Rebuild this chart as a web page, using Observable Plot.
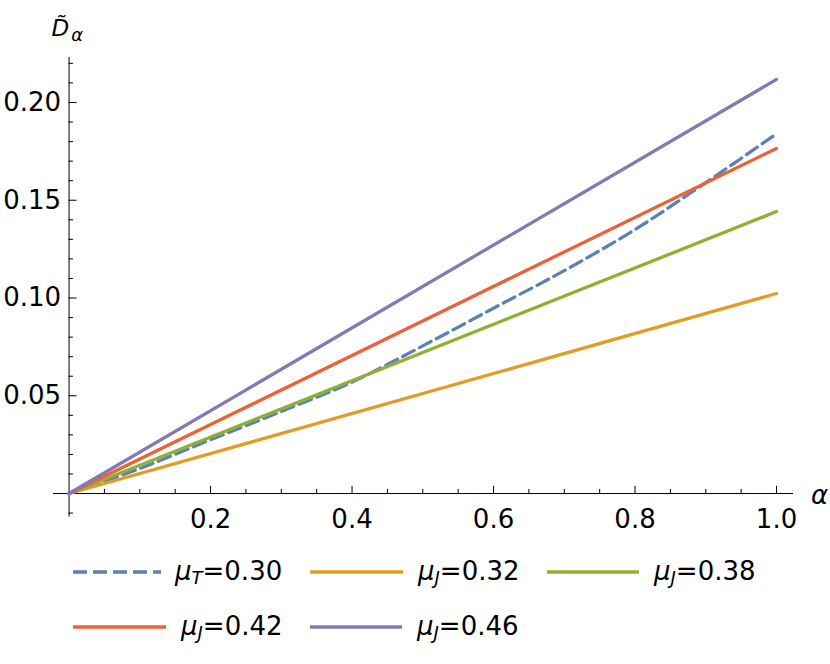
<!DOCTYPE html>
<html>
<head>
<meta charset="utf-8">
<script src="https://cdn.jsdelivr.net/npm/d3@7"></script>
<script src="https://cdn.jsdelivr.net/npm/@observablehq/plot@0.6"></script>
<style>
  body { margin: 0; background: #fff; font-family: "DejaVu Sans", sans-serif; }
  #wrap { width: 830px; }
  #legend { position: relative; width: 830px; height: 119px; font-size: 26px; color: #000; }
  .item { position: absolute; display: flex; align-items: center; height: 40px; }
  .item svg { display: block; }
  .lab { white-space: nowrap; }
  .lab i { font-style: italic; }
  .lab sub { font-size: 18px; vertical-align: -4px; font-style: italic; }
</style>
</head>
<body>
<div id="wrap">
  <div id="chart"></div>
  <div id="legend"></div>
</div>
<script>
// ---- data ----
const alphaT = [0, 0.1, 0.2, 0.3, 0.4, 0.5, 0.6, 0.7, 0.8, 0.9, 1.0];
const muT030 = [0, 0.0128, 0.0275, 0.0420, 0.0570, 0.0755, 0.0948, 0.1140, 0.1350, 0.1590, 0.1840];
const alphaJ = [0, 1.0];
const muJ032 = [0, 0.1023];
const muJ038 = [0, 0.1442];
const muJ042 = [0, 0.1765];
const muJ046 = [0, 0.2118];
const seriesLabels = ["μT=0.30", "μJ=0.32", "μJ=0.38", "μJ=0.42", "μJ=0.46"];
const colors = ["#5E81B5", "#E19C24", "#8FB032", "#EB6235", "#8778B3"];
const xTickLabels = [0.2, 0.4, 0.6, 0.8, 1.0];
const xMinor = [0.05, 0.1, 0.15, 0.25, 0.3, 0.35, 0.45, 0.5, 0.55, 0.65, 0.7, 0.75, 0.85, 0.9, 0.95];
const yTickLabels = [0.05, 0.10, 0.15, 0.20];
const yMinor = [-0.01, 0.01, 0.02, 0.03, 0.04, 0.06, 0.07, 0.08, 0.09, 0.11, 0.12, 0.13, 0.14, 0.16, 0.17, 0.18, 0.19, 0.21, 0.22];

const toRows = (xs, ys) => xs.map((x, i) => ({x, y: ys[i]}));
const lw = 3.3;
const font = "DejaVu Sans";

const chart = Plot.plot({
  width: 830,
  height: 545,
  marginTop: 57,
  marginBottom: 28.5,
  marginLeft: 53,
  marginRight: 37,
  x: {domain: [-0.022, 1.024], axis: null},
  y: {domain: [-0.012, 0.223], axis: null},
  style: {fontFamily: font, background: "white", overflow: "visible"},
  marks: [
    Plot.ruleY([0], {stroke: "#000", strokeWidth: 1}),
    Plot.ruleX([0], {stroke: "#000", strokeWidth: 1}),
    // x ticks (inward, upward)
    Plot.ruleX(xTickLabels, {x: d => d, y1: d => 0, y2: d => 0.0037, stroke: "#000", strokeWidth: 1}),
    Plot.ruleX(xMinor, {x: d => d, y1: d => 0, y2: d => 0.0021, stroke: "#000", strokeWidth: 1}),
    // y ticks (inward, rightward)
    Plot.ruleY(yTickLabels, {y: d => d, x1: d => 0, x2: d => 0.0113, stroke: "#000", strokeWidth: 1}),
    Plot.ruleY(yMinor, {y: d => d, x1: d => 0, x2: d => 0.0062, stroke: "#000", strokeWidth: 1}),
    // tick labels
    Plot.text(xTickLabels, {x: d => d, y: d => 0, text: d => d.toFixed(1), dy: 26, fontSize: 26, fill: "#000", lineAnchor: "middle"}),
    Plot.text(yTickLabels, {x: d => 0, y: d => d, text: d => d.toFixed(2), dx: -8, textAnchor: "end", fontSize: 26, fill: "#000", lineAnchor: "middle"}),
    // series
    Plot.line(toRows(alphaT, muT030), {x: "x", y: "y", stroke: colors[0], strokeWidth: lw, strokeDasharray: "13,6", curve: "catmull-rom"}),
    Plot.line(toRows(alphaJ, muJ032), {x: "x", y: "y", stroke: colors[1], strokeWidth: lw}),
    Plot.line(toRows(alphaJ, muJ038), {x: "x", y: "y", stroke: colors[2], strokeWidth: lw}),
    Plot.line(toRows(alphaJ, muJ042), {x: "x", y: "y", stroke: colors[3], strokeWidth: lw}),
    Plot.line(toRows(alphaJ, muJ046), {x: "x", y: "y", stroke: colors[4], strokeWidth: lw})
  ]
});
document.getElementById("chart").appendChild(chart);

// axis labels with rich text
const sx = chart.scale("x"), sy = chart.scale("y");
const svg = d3.select(chart);
const x0 = sx.apply(0), y0 = sy.apply(0);
svg.append("text")
  .attr("x", sx.apply(1.024) + 18).attr("y", y0 + 11)
  .attr("text-anchor", "start")
  .attr("font-family", font).attr("font-size", 26).attr("font-style", "italic")
  .attr("fill", "#000").text("α");
const yl = svg.append("text")
  .attr("x", x0 - 17).attr("y", 36)
  .attr("text-anchor", "start")
  .attr("font-family", font).attr("font-style", "italic").attr("fill", "#000");
yl.append("tspan").attr("font-size", 23).text("D\u0303");
yl.append("tspan").attr("font-size", 18).attr("dy", 5).attr("dx", 2).text("α");

// legend
const legendItems = [
  {sym: "μ", sub: "T", val: "=0.30", color: colors[0], dash: true, left: 73, top: 552, sw: 88},
  {sym: "μ", sub: "J", val: "=0.32", color: colors[1], dash: false, left: 310, top: 552, sw: 93},
  {sym: "μ", sub: "J", val: "=0.38", color: colors[2], dash: false, left: 547, top: 552, sw: 92},
  {sym: "μ", sub: "J", val: "=0.42", color: colors[3], dash: false, left: 73, top: 607, sw: 93},
  {sym: "μ", sub: "J", val: "=0.46", color: colors[4], dash: false, left: 310, top: 607, sw: 92}
];
const leg = document.getElementById("legend");
legendItems.forEach(it => {
  const d = document.createElement("div");
  d.className = "item";
  d.style.left = it.left + "px";
  d.style.top = (it.top - 545) + "px";
  d.innerHTML = `<svg width="${it.sw}" height="10"><line x1="0" x2="${it.sw}" y1="5" y2="5" stroke="${it.color}" stroke-width="${lw}" ${it.dash ? 'stroke-dasharray="14,6"' : ''}/></svg>` +
    `<span class="lab" style="margin-left:${it.dash ? 14 : 15}px"><i>${it.sym}</i><sub>${it.sub}</sub>${it.val}</span>`;
  leg.appendChild(d);
});
</script>
</body>
</html>
